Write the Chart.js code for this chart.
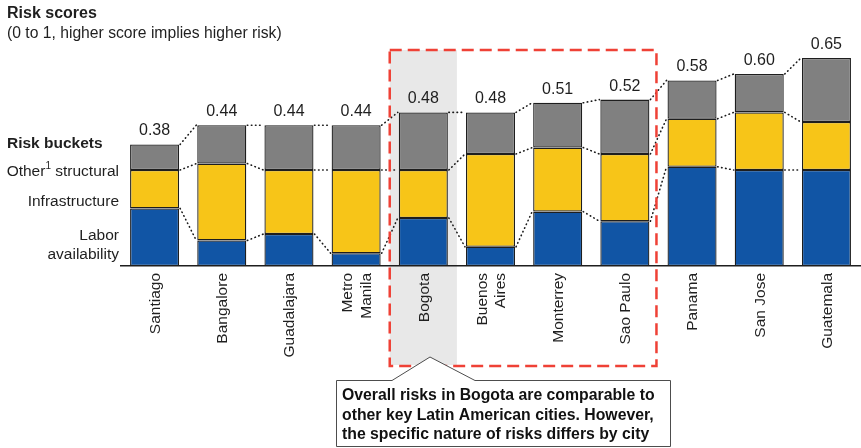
<!DOCTYPE html>
<html>
<head>
<meta charset="utf-8">
<script src="https://cdn.jsdelivr.net/npm/chart.js@4/dist/chart.umd.min.js"></script>
<style>
  html, body { margin: 0; padding: 0; background: #ffffff; }
  canvas { display: block; }
</style>
</head>
<body>
<canvas id="c" width="861" height="448"></canvas>
<script>
// Cities along the x axis (two-line names as arrays)
const cities = ['Santiago', 'Bangalore', 'Guadalajara', ['Metro', 'Manila'], 'Bogota',
  ['Buenos', 'Aires'], 'Monterrey', 'Sao Paulo', 'Panama', 'San Jose', 'Guatemala'];

// Risk bucket scores per city (stacked bottom to top)
const labor = [0.18, 0.08, 0.10, 0.04, 0.15, 0.06, 0.17, 0.14, 0.31, 0.30, 0.30];
const infrastructure = [0.12, 0.24, 0.20, 0.26, 0.15, 0.29, 0.20, 0.21, 0.15, 0.18, 0.15];
const otherStructural = [0.08, 0.12, 0.14, 0.14, 0.18, 0.13, 0.14, 0.17, 0.12, 0.12, 0.20];

// Bucket names shown at the left of the bars
const bucketLabels = ['Other', 'Infrastructure', ['Labor', 'availability']];

const titleText = 'Risk scores';
const subtitleText = '(0 to 1, higher score implies higher risk)';
const calloutLines = [
  'Overall risks in Bogota are comparable to',
  'other key Latin American cities. However,',
  'the specific nature of risks differs by city'
];
const highlightIndex = 4;              // Bogota
const boxFrom = 4, boxTo = 7;          // Bogota .. Sao Paulo

const FONT = '"Liberation Sans", Arial, sans-serif';
const TEXT = '#1f1f1f';

const overlay = {
  id: 'overlay',
  beforeDraw(chart) {
    const { ctx, scales: { x } } = chart;
    const slot = x.width / cities.length;
    const cx = x.getPixelForValue(highlightIndex);
    ctx.save();
    ctx.fillStyle = '#e8e8e8';
    ctx.fillRect(cx - slot / 2, 50, slot, 315);
    ctx.restore();
  },
  afterDatasetsDraw(chart) {
    const { ctx, scales: { x } } = chart;
    ctx.save();
    // dotted connectors between the tops of matching segments
    ctx.strokeStyle = '#1a1a1a';
    ctx.lineWidth = 1.6;
    ctx.lineCap = 'round';
    ctx.setLineDash([0.5, 3.6]);
    chart.data.datasets.forEach((ds, d) => {
      const els = chart.getDatasetMeta(d).data;
      for (let i = 0; i < els.length - 1; i++) {
        const a = els[i], b = els[i + 1];
        ctx.beginPath();
        ctx.moveTo(a.x + a.width / 2 + 1, a.y);
        ctx.lineTo(b.x - b.width / 2 - 1, b.y);
        ctx.stroke();
      }
    });
    ctx.setLineDash([]);
    // total score above each stack
    const top = chart.getDatasetMeta(chart.data.datasets.length - 1).data;
    ctx.fillStyle = TEXT;
    ctx.font = '16px ' + FONT;
    ctx.textAlign = 'center';
    ctx.textBaseline = 'alphabetic';
    top.forEach((el, i) => {
      const total = labor[i] + infrastructure[i] + otherStructural[i];
      ctx.fillText(total.toFixed(2), el.x, el.y - 9);
    });

    // city names, rotated, ending just under the axis line
    ctx.font = '15.5px ' + FONT;
    ctx.textAlign = 'right';
    ctx.textBaseline = 'middle';
    const yTop = x.top + 7;
    cities.forEach((name, i) => {
      const lines = Array.isArray(name) ? name : [name];
      const cx = x.getPixelForValue(i);
      lines.forEach((t, j) => {
        const lx = cx + (j - (lines.length - 1) / 2) * 18.5 + 1;
        ctx.save();
        ctx.translate(lx, yTop);
        ctx.rotate(-Math.PI / 2);
        ctx.fillText(t, 0, 0);
        ctx.restore();
      });
    });
    ctx.restore();
  },
  afterDraw(chart) {
    const { ctx, scales: { x } } = chart;
    const slot = x.width / cities.length;
    ctx.save();

    // highlighted group frame
    const x0 = x.getPixelForValue(boxFrom) - slot / 2;
    const x1 = x.getPixelForValue(boxTo) + slot / 2 - 2;
    ctx.strokeStyle = '#ef4136';
    ctx.lineWidth = 2.5;
    ctx.setLineDash([12, 6]);
    ctx.strokeRect(x0, 50, x1 - x0, 316);
    ctx.setLineDash([]);

    // callout box pointing at Bogota
    ctx.beginPath();
    ctx.moveTo(336.5, 380.5);
    ctx.lineTo(392, 380.5);
    ctx.lineTo(430, 357);
    ctx.lineTo(475, 380.5);
    ctx.lineTo(670.5, 380.5);
    ctx.lineTo(670.5, 446.5);
    ctx.lineTo(336.5, 446.5);
    ctx.closePath();
    ctx.fillStyle = '#ffffff';
    ctx.fill();
    ctx.strokeStyle = '#4d4d4d';
    ctx.lineWidth = 1;
    ctx.stroke();
    ctx.fillStyle = '#111';
    ctx.font = 'bold 15.8px ' + FONT;
    ctx.textAlign = 'left';
    ctx.textBaseline = 'alphabetic';
    calloutLines.forEach((t, i) => ctx.fillText(t, 342, 400 + i * 19.5));

    // title
    ctx.fillStyle = TEXT;
    ctx.font = 'bold 16px ' + FONT;
    ctx.fillText(titleText, 7, 18);
    ctx.font = '15.7px ' + FONT;
    ctx.fillText(subtitleText, 7, 38);

    // bucket legend on the left
    ctx.font = 'bold 15.5px ' + FONT;
    ctx.fillText('Risk buckets', 7, 148);
    ctx.font = '15.5px ' + FONT;
    ctx.textAlign = 'right';
    const rx = 119;
    // "Other¹ structural" with superscript
    const tail = ' structural';
    const tailW = ctx.measureText(tail).width;
    ctx.fillText(tail, rx, 176);
    ctx.font = '10px ' + FONT;
    const supW = ctx.measureText('1').width;
    ctx.fillText('1', rx - tailW, 169);
    ctx.font = '15.5px ' + FONT;
    ctx.fillText(bucketLabels[0], rx - tailW - supW, 176);
    ctx.fillText(bucketLabels[1], rx, 206);
    ctx.fillText(bucketLabels[2][0], rx, 240);
    ctx.fillText(bucketLabels[2][1], rx, 259);
    ctx.restore();
  }
};

const barStyle = {
  borderColor: '#1e1e1e',
  borderWidth: 1.3,
  borderSkipped: false,
  barPercentage: 0.73,
  categoryPercentage: 1.0
};

new Chart(document.getElementById('c'), {
  type: 'bar',
  data: {
    labels: cities,
    datasets: [
      { label: 'Labor availability', data: labor, backgroundColor: '#1155a5', ...barStyle },
      { label: 'Infrastructure', data: infrastructure, backgroundColor: '#f7c518', ...barStyle },
      { label: 'Other structural', data: otherStructural, backgroundColor: '#808080', ...barStyle }
    ]
  },
  options: {
    responsive: false,
    animation: false,
    devicePixelRatio: 1,
    layout: { padding: { left: 121, right: 1, top: 10, bottom: 0 } },
    plugins: { legend: { display: false }, tooltip: { enabled: false } },
    scales: {
      x: {
        stacked: true,
        grid: { display: false },
        border: { display: true, color: '#1e1e1e', width: 1.5 },
        afterFit(scale) { scale.height = 182; },
        ticks: { display: false, autoSkip: false }
      },
      y: {
        stacked: true,
        display: false,
        min: 0,
        max: 0.8
      }
    }
  },
  plugins: [overlay]
});
</script>
</body>
</html>
